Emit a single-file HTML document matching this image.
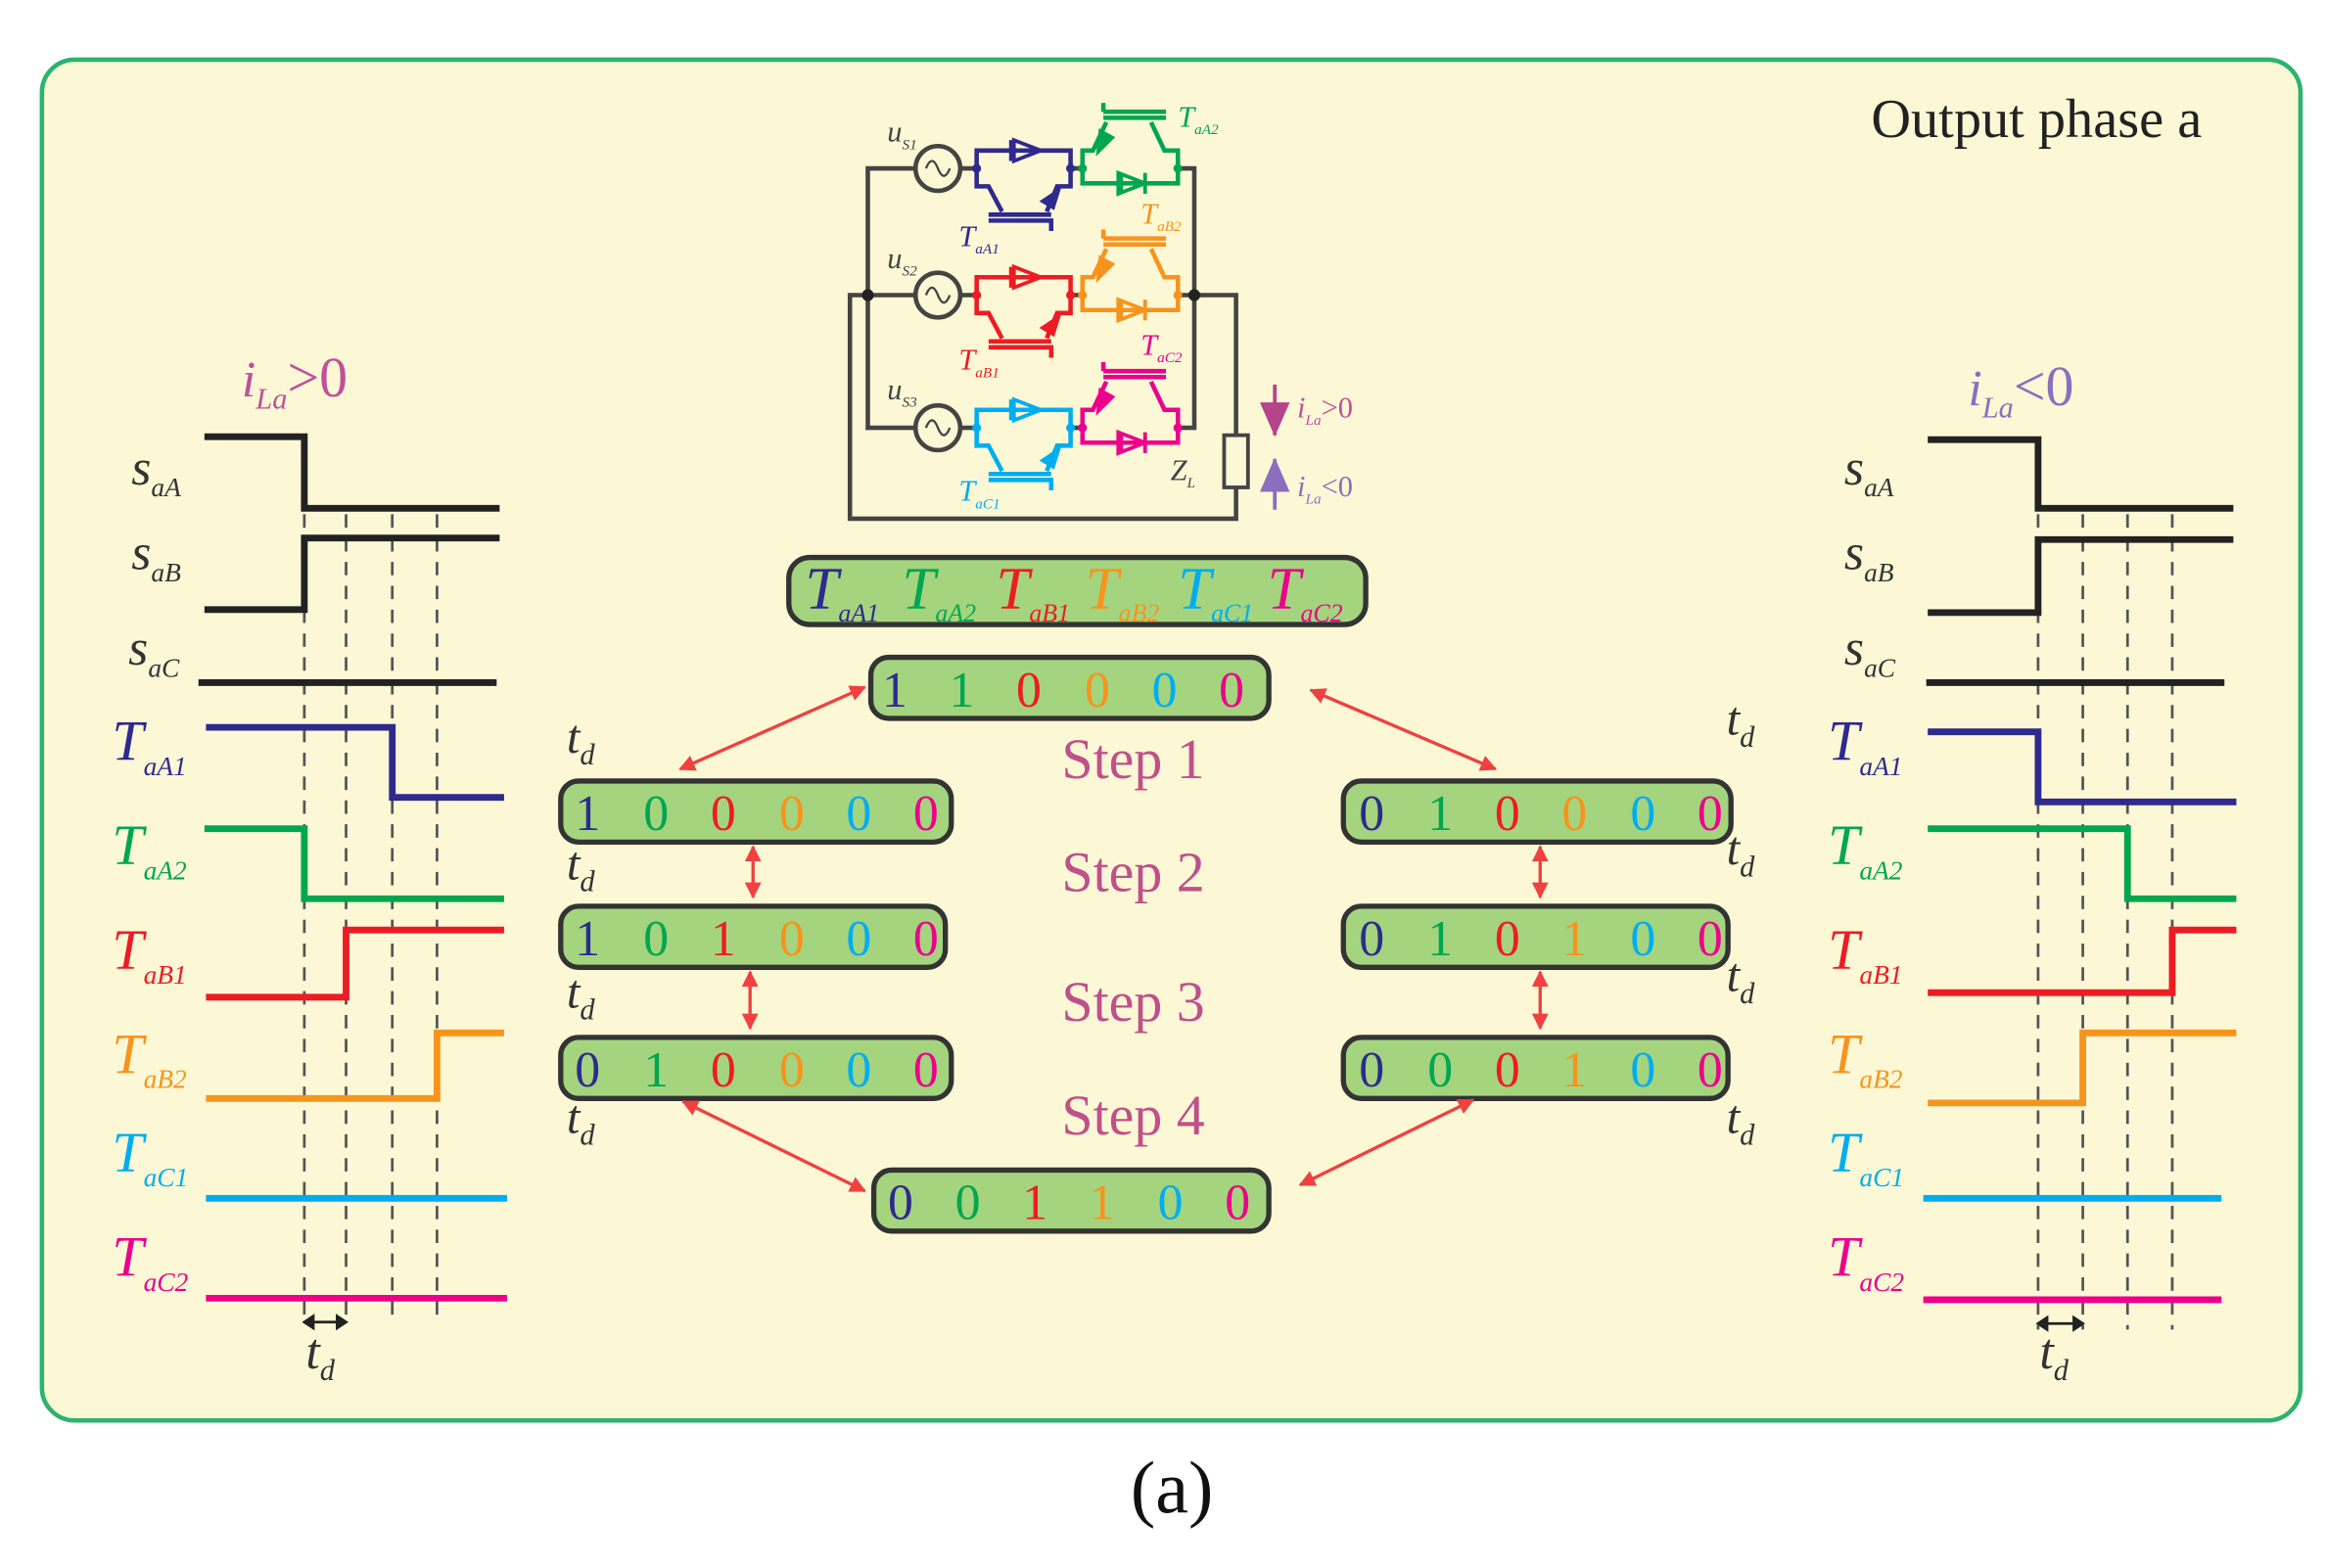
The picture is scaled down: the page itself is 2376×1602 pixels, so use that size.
<!DOCTYPE html>
<html><head><meta charset="utf-8"><style>
html,body{margin:0;padding:0;background:#fff;}
svg{display:block}
text{font-family:"Liberation Serif",serif;}
</style></head><body>
<svg width="2376" height="1602" viewBox="0 0 1560 1052" xmlns="http://www.w3.org/2000/svg">
<defs>
<marker id="ar" viewBox="0 0 10 10" refX="9" refY="5" markerWidth="5" markerHeight="5" orient="auto-start-reverse"><path d="M0,0L10,5L0,10z" fill="#f04040"/></marker>
<g id="blkL">
 <path d="M655,0V-12H718V0M655,0V12H663L672,29M718,0V12H709L702,29" fill="none" stroke="currentColor" stroke-width="3"/>
 <path d="M678,-19V-5M698,-12L680,-19V-5z" fill="none" stroke="currentColor" stroke-width="2.5"/>
 <path d="M663,31H705M663,35H705V42" fill="none" stroke="currentColor" stroke-width="3"/>
 <path d="M712,12L697,22L707,28z" fill="currentColor"/>
 <circle cx="655" cy="0" r="3" fill="currentColor"/><circle cx="718" cy="0" r="3" fill="currentColor"/>
</g>
<g id="blkR">
 <path d="M726,0V-12H733L742,-31M790,0V-12H781L772,-31M726,0V10H790V0" fill="none" stroke="currentColor" stroke-width="3"/>
 <path d="M752,3V17M768,10L750,3V17zM768,3V17" fill="none" stroke="currentColor" stroke-width="2.5"/>
 <path d="M740,-34H782M740,-38H782M740,-38V-44" fill="none" stroke="currentColor" stroke-width="3"/>
 <path d="M735,-8L737,-27L748,-21z" fill="currentColor"/>
 <circle cx="726" cy="0" r="3" fill="currentColor"/><circle cx="790" cy="0" r="3" fill="currentColor"/>
</g>
</defs>
<rect x="0" y="0" width="1560" height="1052" fill="#fff"/>
<rect x="28" y="40" width="1515" height="913" rx="22" fill="#fcf8d6" stroke="#2cb36e" stroke-width="3"/>
<text x="1255" y="92" font-size="37" fill="#222">Output phase a</text>
<text x="786" y="1015" font-size="50" text-anchor="middle" fill="#111">(a)</text>

<!-- circuit -->
<g stroke="#444" stroke-width="3" fill="none">
 <path d="M614,113H582V287H614M582,198H614M644,113H655M644,198H655M644,287H655M790,113H801V287H790M790,198H829V292M829,327V348H570V198H582"/>
 <rect x="821" y="292" width="16" height="35" stroke-width="2.5"/>
 <circle cx="629" cy="113" r="15"/><circle cx="629" cy="198" r="15"/><circle cx="629" cy="287" r="15"/>
 <path d="M621,113q4,-10 8,0t8,0M621,198q4,-10 8,0t8,0M621,287q4,-10 8,0t8,0" stroke-width="1.5"/>
 <path d="M718,113H726M718,198H726M718,287H726"/>
</g>
<circle cx="582" cy="198" r="4" fill="#222"/><circle cx="801" cy="198" r="4" fill="#222"/>
<use href="#blkL" transform="translate(0,113)" color="#2e2a8e"/>
<use href="#blkR" transform="translate(0,113)" color="#00a651"/>
<use href="#blkL" transform="translate(0,198)" color="#ed1c24"/>
<use href="#blkR" transform="translate(0,198)" color="#f7941d"/>
<use href="#blkL" transform="translate(0,287)" color="#00aeef"/>
<use href="#blkR" transform="translate(0,287)" color="#ec008c"/>
<g font-style="italic" font-size="20">
 <text x="595" y="95" fill="#444">u<tspan font-size="10" dy="5">S1</tspan></text>
 <text x="595" y="180" fill="#444">u<tspan font-size="10" dy="5">S2</tspan></text>
 <text x="595" y="268" fill="#444">u<tspan font-size="10" dy="5">S3</tspan></text>
 <text x="643" y="165" fill="#2e2a8e">T<tspan font-size="10" dy="5">aA1</tspan></text>
 <text x="790" y="85" fill="#00a651">T<tspan font-size="10" dy="5">aA2</tspan></text>
 <text x="765" y="150" fill="#f7941d">T<tspan font-size="10" dy="5">aB2</tspan></text>
 <text x="643" y="248" fill="#ed1c24">T<tspan font-size="10" dy="5">aB1</tspan></text>
 <text x="765" y="238" fill="#ec008c">T<tspan font-size="10" dy="5">aC2</tspan></text>
 <text x="643" y="336" fill="#00aeef">T<tspan font-size="10" dy="5">aC1</tspan></text>
 <text x="785" y="322" fill="#444">Z<tspan font-size="10" dy="5">L</tspan></text>
 <text x="870" y="280" fill="#c0509a">i<tspan font-size="10" dy="5">La</tspan><tspan dy="-5" font-style="normal">&gt;0</tspan></text>
 <text x="870" y="333" fill="#8a6fbf">i<tspan font-size="10" dy="5">La</tspan><tspan dy="-5" font-style="normal">&lt;0</tspan></text>
</g>
<path d="M855,258V292" stroke="#b5448a" stroke-width="2.5"/><path d="M845,270L855,293L865,270z" fill="#b5448a"/>
<path d="M855,342V308" stroke="#8a6fbf" stroke-width="2.5"/><path d="M845,330L855,307L865,330z" fill="#8a6fbf"/>

<!-- header box -->
<rect x="529" y="374" width="387" height="45" rx="14" fill="#a5d47e" stroke="#333" stroke-width="3.5"/>
<g font-style="italic" font-size="40">
 <text x="540" y="408" fill="#2e2a8e">T<tspan font-size="17" dy="9">aA1</tspan></text>
 <text x="605" y="408" fill="#00a651">T<tspan font-size="17" dy="9">aA2</tspan></text>
 <text x="668" y="408" fill="#ed1c24">T<tspan font-size="17" dy="9">aB1</tspan></text>
 <text x="728" y="408" fill="#f7941d">T<tspan font-size="17" dy="9">aB2</tspan></text>
 <text x="790" y="408" fill="#00aeef">T<tspan font-size="17" dy="9">aC1</tspan></text>
 <text x="850" y="408" fill="#ec008c">T<tspan font-size="17" dy="9">aC2</tspan></text>
</g>

<!-- state boxes -->
<g fill="#a5d47e" stroke="#333" stroke-width="3.5">
 <rect x="584" y="441" width="267" height="41" rx="12"/>
 <rect x="376" y="524" width="262" height="41" rx="12"/>
 <rect x="376" y="608" width="258" height="41" rx="12"/>
 <rect x="376" y="696" width="262" height="41" rx="12"/>
 <rect x="901" y="524" width="260" height="41" rx="12"/>
 <rect x="901" y="608" width="258" height="41" rx="12"/>
 <rect x="901" y="696" width="258" height="41" rx="12"/>
 <rect x="586" y="785" width="265" height="41" rx="12"/>
</g>
<g font-size="34" text-anchor="middle">
 <g transform="translate(0,474)"><text x="600" fill="#2e2a8e">1</text><text x="645" fill="#00a651">1</text><text x="690" fill="#ed1c24">0</text><text x="736" fill="#f7941d">0</text><text x="781" fill="#00aeef">0</text><text x="826" fill="#ec008c">0</text></g>
 <g transform="translate(0,557)"><text x="394" fill="#2e2a8e">1</text><text x="440" fill="#00a651">0</text><text x="485" fill="#ed1c24">0</text><text x="531" fill="#f7941d">0</text><text x="576" fill="#00aeef">0</text><text x="621" fill="#ec008c">0</text></g>
 <g transform="translate(0,641)"><text x="394" fill="#2e2a8e">1</text><text x="440" fill="#00a651">0</text><text x="485" fill="#ed1c24">1</text><text x="531" fill="#f7941d">0</text><text x="576" fill="#00aeef">0</text><text x="621" fill="#ec008c">0</text></g>
 <g transform="translate(0,729)"><text x="394" fill="#2e2a8e">0</text><text x="440" fill="#00a651">1</text><text x="485" fill="#ed1c24">0</text><text x="531" fill="#f7941d">0</text><text x="576" fill="#00aeef">0</text><text x="621" fill="#ec008c">0</text></g>
 <g transform="translate(0,557)"><text x="920" fill="#2e2a8e">0</text><text x="966" fill="#00a651">1</text><text x="1011" fill="#ed1c24">0</text><text x="1056" fill="#f7941d">0</text><text x="1102" fill="#00aeef">0</text><text x="1147" fill="#ec008c">0</text></g>
 <g transform="translate(0,641)"><text x="920" fill="#2e2a8e">0</text><text x="966" fill="#00a651">1</text><text x="1011" fill="#ed1c24">0</text><text x="1056" fill="#f7941d">1</text><text x="1102" fill="#00aeef">0</text><text x="1147" fill="#ec008c">0</text></g>
 <g transform="translate(0,729)"><text x="920" fill="#2e2a8e">0</text><text x="966" fill="#00a651">0</text><text x="1011" fill="#ed1c24">0</text><text x="1056" fill="#f7941d">1</text><text x="1102" fill="#00aeef">0</text><text x="1147" fill="#ec008c">0</text></g>
 <g transform="translate(0,818)"><text x="604" fill="#2e2a8e">0</text><text x="649" fill="#00a651">0</text><text x="694" fill="#ed1c24">1</text><text x="739" fill="#f7941d">1</text><text x="785" fill="#00aeef">0</text><text x="830" fill="#ec008c">0</text></g>
</g>
<g font-size="38" fill="#c0508a" text-anchor="middle">
 <text x="760" y="522">Step 1</text><text x="760" y="598">Step 2</text>
 <text x="760" y="685">Step 3</text><text x="760" y="761">Step 4</text>
</g>
<g font-style="italic" font-size="32" fill="#333">
 <text x="380" y="505">t<tspan font-size="20" dy="8">d</tspan></text>
 <text x="380" y="590">t<tspan font-size="20" dy="8">d</tspan></text>
 <text x="380" y="676">t<tspan font-size="20" dy="8">d</tspan></text>
 <text x="380" y="760">t<tspan font-size="20" dy="8">d</tspan></text>
 <text x="1158" y="493">t<tspan font-size="20" dy="8">d</tspan></text>
 <text x="1158" y="580">t<tspan font-size="20" dy="8">d</tspan></text>
 <text x="1158" y="665">t<tspan font-size="20" dy="8">d</tspan></text>
 <text x="1158" y="760">t<tspan font-size="20" dy="8">d</tspan></text>
</g>
<g stroke="#f04040" stroke-width="2.2" marker-start="url(#ar)" marker-end="url(#ar)">
 <line x1="580" y1="461" x2="456" y2="516"/>
 <line x1="879" y1="463" x2="1003" y2="516"/>
 <line x1="505" y1="568" x2="505" y2="602"/>
 <line x1="503" y1="652" x2="503" y2="690"/>
 <line x1="1033" y1="568" x2="1033" y2="602"/>
 <line x1="1033" y1="652" x2="1033" y2="690"/>
 <line x1="458" y1="739" x2="580" y2="799"/>
 <line x1="988" y1="738" x2="872" y2="795"/>
</g>

<g stroke="#555" stroke-width="1.8" stroke-dasharray="9,7">
 <path d="M204,345V882M232,345V882M263,345V882M293,345V882"/>
 <path d="M1367,345V892M1397,345V892M1427,345V892M1457,345V892"/>
</g>
<g fill="none" stroke-width="4.5">
 <path d="M137,293H204V341H335" stroke="#222"/>
 <path d="M137,409H204V361H335" stroke="#222"/>
 <path d="M133,458H333" stroke="#222"/>
 <path d="M138,488H263V535H338" stroke="#2e2a8e"/>
 <path d="M137,556H204V603H338" stroke="#00a651"/>
 <path d="M138,669H232V624H338" stroke="#ed1c24"/>
 <path d="M138,737H293V693H338" stroke="#f7941d"/>
 <path d="M138,804H340" stroke="#00aeef"/>
 <path d="M138,871H340" stroke="#ec008c"/>
 <path d="M1293,295H1367V341H1498" stroke="#222"/>
 <path d="M1293,411H1367V362H1498" stroke="#222"/>
 <path d="M1292,458H1492" stroke="#222"/>
 <path d="M1293,491H1367V538H1500" stroke="#2e2a8e"/>
 <path d="M1293,556H1427V603H1500" stroke="#00a651"/>
 <path d="M1293,666H1457V624H1500" stroke="#ed1c24"/>
 <path d="M1293,740H1397V693H1500" stroke="#f7941d"/>
 <path d="M1290,804H1490" stroke="#00aeef"/>
 <path d="M1290,872H1490" stroke="#ec008c"/>
</g>
<g stroke="#222" stroke-width="1.8">
 <line x1="206" y1="887" x2="230" y2="887"/><path d="M204,887l6,-4v8zM232,887l-6,-4v8z" fill="#222"/>
 <line x1="1369" y1="888" x2="1395" y2="888"/><path d="M1367,888l6,-4v8zM1397,888l-6,-4v8z" fill="#222"/>
</g>
<g font-style="italic" font-size="34">
 <text x="205" y="918" fill="#333">t<tspan font-size="20" dy="8">d</tspan></text>
 <text x="1368" y="918" fill="#333">t<tspan font-size="20" dy="8">d</tspan></text>
 <text x="162" y="266" fill="#c0509a">i<tspan font-size="20" dy="8">La</tspan><tspan dy="-8" font-style="normal" font-size="38">&gt;0</tspan></text>
 <text x="1320" y="272" fill="#8a6fbf">i<tspan font-size="20" dy="8">La</tspan><tspan dy="-8" font-style="normal" font-size="38">&lt;0</tspan></text>
 <g fill="#333">
  <text x="88" y="325">s<tspan font-size="18" dy="8">aA</tspan></text>
  <text x="88" y="382">s<tspan font-size="18" dy="8">aB</tspan></text>
  <text x="86" y="446">s<tspan font-size="18" dy="8">aC</tspan></text>
  <text x="1237" y="325">s<tspan font-size="18" dy="8">aA</tspan></text>
  <text x="1237" y="382">s<tspan font-size="18" dy="8">aB</tspan></text>
  <text x="1237" y="446">s<tspan font-size="18" dy="8">aC</tspan></text>
 </g>
 <g font-size="38">
  <text x="75" y="510" fill="#2e2a8e">T<tspan font-size="18" dy="10">aA1</tspan></text>
  <text x="75" y="580" fill="#00a651">T<tspan font-size="18" dy="10">aA2</tspan></text>
  <text x="75" y="650" fill="#ed1c24">T<tspan font-size="18" dy="10">aB1</tspan></text>
  <text x="75" y="720" fill="#f7941d">T<tspan font-size="18" dy="10">aB2</tspan></text>
  <text x="75" y="786" fill="#00aeef">T<tspan font-size="18" dy="10">aC1</tspan></text>
  <text x="75" y="856" fill="#ec008c">T<tspan font-size="18" dy="10">aC2</tspan></text>
  <text x="1226" y="510" fill="#2e2a8e">T<tspan font-size="18" dy="10">aA1</tspan></text>
  <text x="1226" y="580" fill="#00a651">T<tspan font-size="18" dy="10">aA2</tspan></text>
  <text x="1226" y="650" fill="#ed1c24">T<tspan font-size="18" dy="10">aB1</tspan></text>
  <text x="1226" y="720" fill="#f7941d">T<tspan font-size="18" dy="10">aB2</tspan></text>
  <text x="1226" y="786" fill="#00aeef">T<tspan font-size="18" dy="10">aC1</tspan></text>
  <text x="1226" y="856" fill="#ec008c">T<tspan font-size="18" dy="10">aC2</tspan></text>
 </g>
</g>
</svg>
</body></html>
